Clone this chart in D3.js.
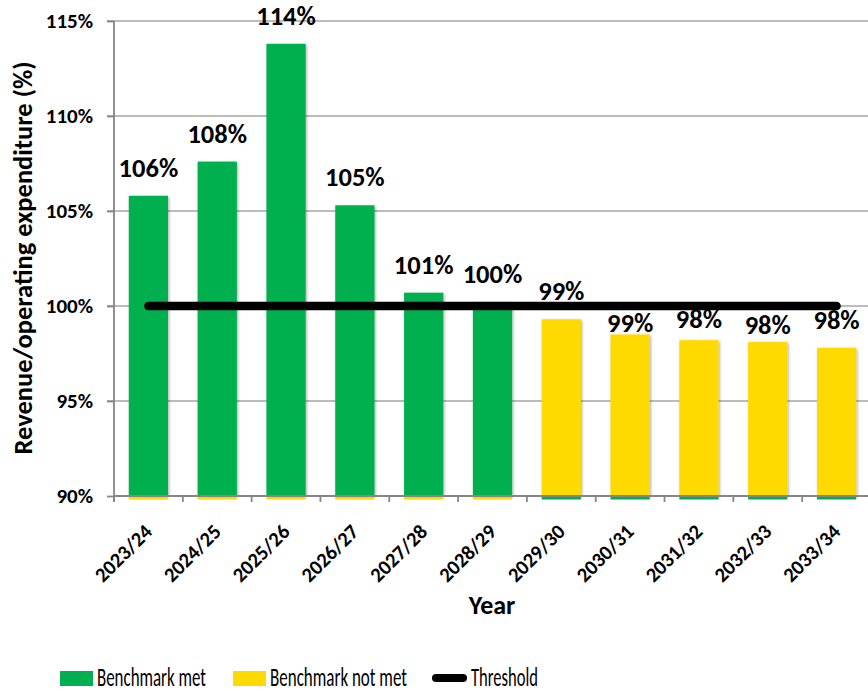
<!DOCTYPE html>
<html>
<head>
<meta charset="utf-8">
<script src="https://cdn.jsdelivr.net/npm/d3@7"></script>
<style>
  html, body { margin: 0; padding: 0; background: #fff; }
  svg { display: block; }
  text { font-family: Calibri, Carlito, "Liberation Sans", Arial, sans-serif; fill: #000; }
</style>
</head>
<body>
<svg id="chart" width="868" height="692"></svg>
<script>
// Financial years on the category axis
const years = ["2023/24", "2024/25", "2025/26", "2026/27", "2027/28", "2028/29",
               "2029/30", "2030/31", "2031/32", "2032/33", "2033/34"];
// Revenue / operating expenditure ratio, percent (null where the series does not apply)
const benchmarkMet    = [105.8, 107.6, 113.8, 105.3, 100.7, 100.2, null, null, null, null, null];
const benchmarkNotMet = [null, null, null, null, null, null, 99.3, 98.5, 98.2, 98.1, 97.8];
// Value labels printed above each column
const valueLabels = ["106%", "108%", "114%", "105%", "101%", "100%", "99%", "99%", "98%", "98%", "98%"];
// Threshold level, percent
const threshold = 100;
// Y axis ticks
const yTicks = [90, 95, 100, 105, 110, 115];

const GREEN = "#00B050", YELLOW = "#FFDA00", GRID = "#A6A6A6", AXIS = "#868686";

const svg = d3.select("#chart");
const plotLeft = 114, plotRight = 871, plotTop = 21, plotBottom = 496;

const x = d3.scaleBand().domain(years).range([plotLeft, plotRight]).paddingInner(0.43).paddingOuter(0.215);
const step = x.step();
const y = d3.scaleLinear().domain([90, 115]).range([plotBottom, plotTop]);

// Horizontal gridlines
svg.append("g").selectAll("line").data(yTicks.filter(t => t > 90)).join("line")
  .attr("x1", plotLeft - 7).attr("x2", 868)
  .attr("y1", d => y(d)).attr("y2", d => y(d))
  .attr("stroke", GRID).attr("stroke-width", 1.3);

// Y axis
const yAxis = d3.axisLeft(y).tickValues(yTicks).tickFormat(d => d + "%").tickSize(7).tickPadding(14);
const gy = svg.append("g").attr("transform", `translate(${plotLeft},0)`).call(yAxis);
gy.attr("font-family", null).attr("font-size", null);
gy.select(".domain").attr("stroke", AXIS).attr("stroke-width", 1.8).attr("d", `M0,${plotTop}V${plotBottom + 6}`);
gy.selectAll(".tick line").attr("stroke", AXIS).attr("stroke-width", 1.8);
gy.selectAll(".tick text").style("font-size", "21px").style("font-weight", "bold").attr("fill", "#000");

// Combined rows for drawing
const rows = years.map((yr, i) => ({
  year: yr,
  met: benchmarkMet[i],
  notMet: benchmarkNotMet[i],
  value: benchmarkMet[i] != null ? benchmarkMet[i] : benchmarkNotMet[i],
  label: valueLabels[i]
}));

// Drop shadow for columns
const defs = svg.append("defs");
const f = defs.append("filter").attr("id", "shadow").attr("x", "-20%").attr("y", "-20%").attr("width", "140%").attr("height", "140%");
f.append("feGaussianBlur").attr("in", "SourceAlpha").attr("stdDeviation", 1.5).attr("result", "b");
f.append("feOffset").attr("in", "b").attr("dx", 1).attr("dy", 1).attr("result", "o");
f.append("feComponentTransfer").attr("in", "o").attr("result", "s")
  .append("feFuncA").attr("type", "linear").attr("slope", 0.35);
const m = f.append("feMerge");
m.append("feMergeNode").attr("in", "s");
m.append("feMergeNode").attr("in", "SourceGraphic");

// Columns
const bars = svg.append("g");
bars.selectAll("rect.met").data(rows.filter(r => r.met != null)).join("rect")
  .attr("class", "met")
  .attr("x", d => x(d.year)).attr("width", x.bandwidth())
  .attr("y", d => y(d.met)).attr("height", d => y(90) - y(d.met))
  .attr("fill", GREEN).attr("filter", "url(#shadow)");
bars.selectAll("rect.notmet").data(rows.filter(r => r.notMet != null)).join("rect")
  .attr("class", "notmet")
  .attr("x", d => x(d.year)).attr("width", x.bandwidth())
  .attr("y", d => y(d.notMet)).attr("height", d => y(90) - y(d.notMet))
  .attr("fill", YELLOW).attr("filter", "url(#shadow)");

// Empty series segments show only as a thin sliver under the baseline
bars.selectAll("rect.sliver").data(rows).join("rect")
  .attr("class", "sliver")
  .attr("x", d => x(d.year)).attr("width", x.bandwidth())
  .attr("y", y(90) + 1).attr("height", 2.5)
  .attr("fill", d => d.met != null ? YELLOW : GREEN);

// X axis baseline and category ticks
svg.append("line").attr("x1", plotLeft).attr("x2", 868).attr("y1", plotBottom).attr("y2", plotBottom)
  .attr("stroke", AXIS).attr("stroke-width", 1.8);
svg.append("g").selectAll("line").data(d3.range(years.length + 1)).join("line")
  .attr("x1", i => plotLeft + i * step).attr("x2", i => plotLeft + i * step)
  .attr("y1", plotBottom).attr("y2", plotBottom + 6)
  .attr("stroke", AXIS).attr("stroke-width", 1.8);

// Category labels, rotated
svg.append("g").selectAll("text").data(years).join("text")
  .attr("transform", d => `translate(${x(d) + x.bandwidth() / 2 + 5},${plotBottom + 37}) rotate(-45)`)
  .attr("text-anchor", "end")
  .style("font-size", "20.5px").style("font-weight", "bold")
  .text(d => d);

// Threshold line across the columns
svg.append("line")
  .attr("x1", x(years[0]) + x.bandwidth() / 2).attr("x2", x(years[years.length - 1]) + x.bandwidth() / 2)
  .attr("y1", y(threshold)).attr("y2", y(threshold))
  .attr("stroke", "#000").attr("stroke-width", 8.5).attr("stroke-linecap", "round");

// Value labels; a few sit closer to their column so they clear the threshold line
const labelGap = { "2030/31": 3, "2031/32": 12, "2032/33": 8 };
svg.append("g").selectAll("text").data(rows).join("text")
  .attr("x", d => x(d.year) + x.bandwidth() / 2)
  .attr("y", d => y(d.value) - (labelGap[d.year] != null ? labelGap[d.year] : 19))
  .attr("text-anchor", "middle")
  .style("font-size", "26.5px").style("font-weight", "bold")
  .text(d => d.label);

// Axis titles
svg.append("text")
  .attr("transform", `translate(32,258) rotate(-90)`)
  .attr("text-anchor", "middle")
  .style("font-size", "26.5px").style("font-weight", "bold")
  .text("Revenue/operating expenditure (%)");
svg.append("text")
  .attr("x", 492).attr("y", 614)
  .attr("text-anchor", "middle")
  .style("font-size", "26px").style("font-weight", "bold")
  .text("Year");

// Legend
const legend = svg.append("g").attr("transform", "translate(0,678)");
const items = [
  { name: "Benchmark met", kind: "rect", color: GREEN, x: 60, w: 109, gap: 37 },
  { name: "Benchmark not met", kind: "rect", color: YELLOW, x: 233, w: 137, gap: 37 },
  { name: "Threshold", kind: "line", color: "#000", x: 432, w: 67, gap: 39 }
];
items.forEach(it => {
  if (it.kind === "rect") {
    legend.append("rect").attr("x", it.x).attr("y", -7).attr("width", 33).attr("height", 15).attr("fill", it.color);
  } else {
    legend.append("line").attr("x1", it.x + 4).attr("x2", it.x + 31).attr("y1", 0).attr("y2", 0)
      .attr("stroke", it.color).attr("stroke-width", 8).attr("stroke-linecap", "round");
  }
  legend.append("text").attr("x", it.x + it.gap).attr("y", 8)
    .attr("textLength", it.w).attr("lengthAdjust", "spacingAndGlyphs")
    .style("font-size", "26px")
    .text(it.name);
});
</script>
</body>
</html>
